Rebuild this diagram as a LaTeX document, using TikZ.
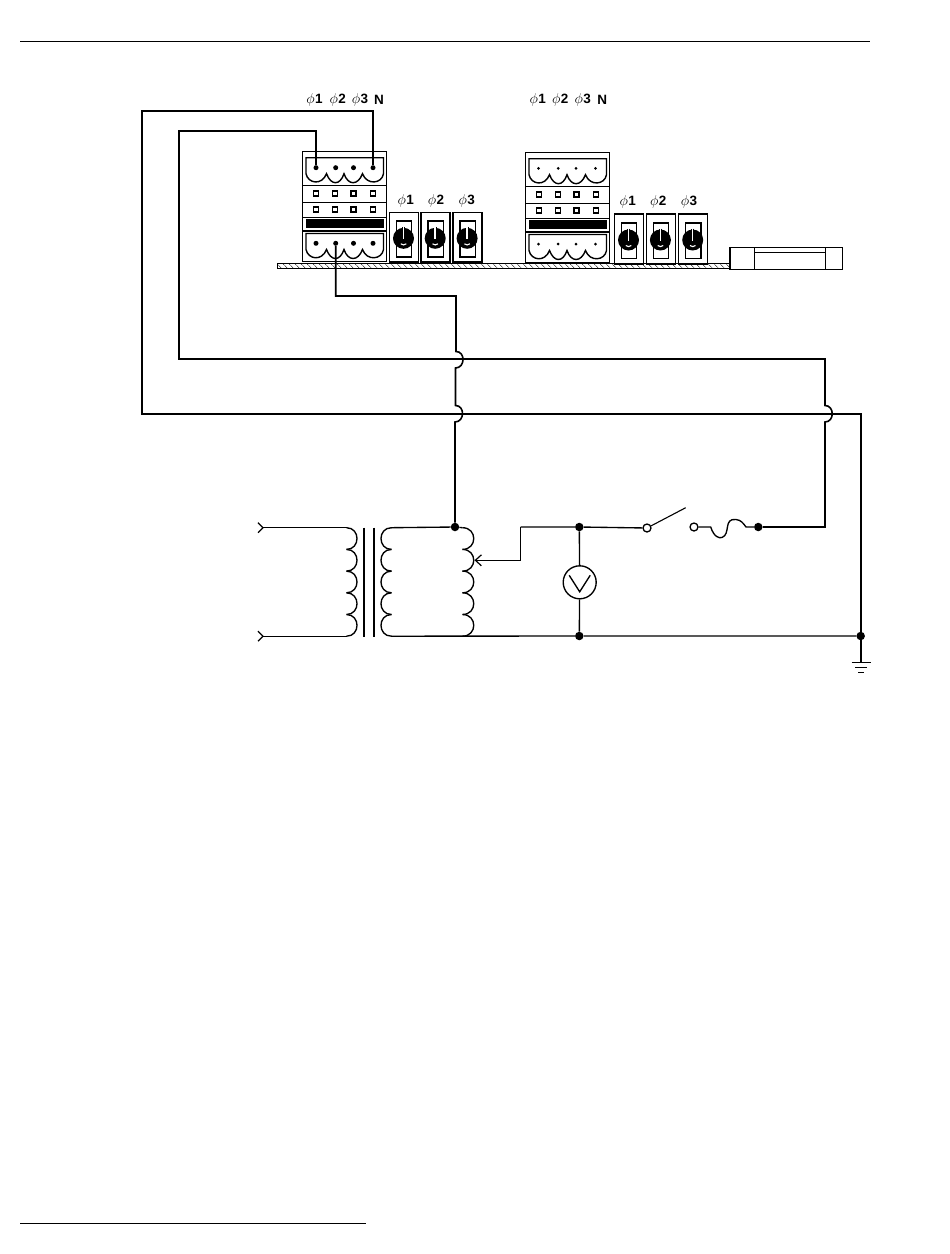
\documentclass[tikz,border=0pt]{standalone}
\usepackage{fontspec}
\setmainfont{Liberation Sans}
\usetikzlibrary{arrows.meta,patterns.meta}
\newcommand{\phlabel}[1]{$\phi$\kern.3pt{\bfseries #1}}
\tikzset{
  wire/.style={line width=1.6pt,line join=miter},
  thin wire/.style={line width=1.35pt},
  frame/.style={line width=1.4pt},
  hop/.style={out=0,in=0,looseness=1.5},
  jointdot/.style={circle,fill=black,inner sep=0pt,minimum size=8.5pt},
  opendot/.style={circle,draw,line width=1.3pt,fill=white,inner sep=0pt,minimum size=8pt},
  pinbig/.style={circle,fill=black,inner sep=0pt,minimum size=5pt},
  pinsmall/.style={circle,fill=black,inner sep=0pt,minimum size=3pt},
  phaselabel/.style={font=\fontsize{13.5}{13.5}\selectfont,inner sep=0pt}
}
\begin{document}
\begin{tikzpicture}[x=1pt,y=-1pt]
\useasboundingbox (0,0) rectangle (950,1254);
% page rules
\draw[line width=.9pt] (20,41.5) -- (870,41.5);
\draw[line width=.9pt] (20,1223.5) -- (366,1223.5);
% mounting rail and fuse holder
\draw[line width=1pt,pattern={Lines[angle=-45,distance=4pt,line width=.6pt]}] (277,263.5) rectangle (730,268.5);
\draw[frame] (730,247.7) rectangle (842.7,269.5);
\draw[frame] (754.3,247.7) -- (754.3,269.5);
\draw[frame] (825.7,247.7) -- (825.7,269.5);
\draw[frame] (754.3,252.7) -- (825.7,252.7);
% terminal blocks
\foreach \bx/\by in {0/0,223/1}{
\begin{scope}[shift={(\bx,\by)}]
\draw[frame] (302.5,151.7) rectangle (386.7,261.7);
\foreach \y in {185.5,202.5,217.3,231}
  \draw[frame] (302.5,\y) -- (386.7,\y);
\fill (306,219) rectangle (383.5,227.7);
\foreach \x in {316,335,353.5,372.7}{
  \draw[line width=1.2pt] (\x-2.5,191) rectangle (\x+2.5,196);
  \draw[line width=1.2pt] (\x-2.5,207) rectangle (\x+2.5,212);
}
\foreach \T in {157.7,233.5}
  \draw[frame,shift={(0,\T)}] (306,16) -- (306,0) -- (383.5,0) -- (383.5,16)
    .. controls (382,26) and (367,28) .. (362.5,16)
    .. controls (358,28) and (348,28) .. (344,16)
    .. controls (340,28) and (331,28) .. (326.5,16)
    .. controls (322,28) and (308,26) .. (306,16);
\end{scope}
}
\foreach \n/\x in {1/316,2/335.7,3/353.5,4/373}{
  \node[pinbig] (ta\n) at (\x,167.7) {};
  \node[pinbig] (tb\n) at (\x,243.3) {};
  \node[pinsmall] (ua\n) at (\x+222.5,168.3) {};
  \node[pinsmall] (ub\n) at (\x+222.5,244) {};
}
% selector switches
\foreach \sx/\sy in {389.3/212.3,421/212.3,452.9/212.3,614.3/214,646.2/214,678.5/214}{
\begin{scope}[shift={(\sx,\sy)}]
\draw[frame] (0,0) rectangle (29,49.8);
\draw[frame] (7,8.8) rectangle (22.4,44.5);
\fill (14.2,26) circle (10.5);
\draw[line width=3pt] (14.2,14.5) -- (14.2,20);
\draw[white,line width=1.5pt] (14.2,15) -- (14.2,27);
\draw[white,line width=1.1pt] (11.5,31.5) .. controls (13,33) and (15.5,33) .. (17,31.5);
\end{scope}
}
% phase labels
\node[phaselabel] (la1) at (314.5,99.5) {\phlabel{1}};
\node[phaselabel] (la2) at (337.7,99.5) {\phlabel{2}};
\node[phaselabel] (la3) at (360,99.5) {\phlabel{3}};
\node[phaselabel] (la4) at (379,99.5) {\bfseries N};
\node[phaselabel] (lb1) at (537.7,99.7) {\phlabel{1}};
\node[phaselabel] (lb2) at (560.3,99.7) {\phlabel{2}};
\node[phaselabel] (lb3) at (582.7,99.7) {\phlabel{3}};
\node[phaselabel] (lb4) at (602.3,99.7) {\bfseries N};
\node[phaselabel] (sa1) at (405.7,201.2) {\phlabel{1}};
\node[phaselabel] (sa2) at (436,201.2) {\phlabel{2}};
\node[phaselabel] (sa3) at (466.7,201.2) {\phlabel{3}};
\node[phaselabel] (sb1) at (627.7,201.7) {\phlabel{1}};
\node[phaselabel] (sb2) at (658.3,201.7) {\phlabel{2}};
\node[phaselabel] (sb3) at (689,201.7) {\phlabel{3}};
% junctions
\node[jointdot] (sec) at (455,527) {};
\node[jointdot] (busT) at (579.3,527) {};
\node[jointdot] (busB) at (579.3,636) {};
\node[jointdot] (gnd) at (860.7,636) {};
\node[jointdot] (fuseR) at (758.3,527) {};
\node[opendot] (swL) at (647,528) {};
\node[opendot] (swR) at (694,527) {};
\node[circle,draw,line width=1.35pt,inner sep=0pt,minimum size=33pt] (meter) at (579.7,582.3) {};
% long wires
\coordinate (nA) at (142,111);
\coordinate (nB) at (142,414);
\coordinate (pA) at (179,131);
\coordinate (pB) at (179,359);
\coordinate (pC) at (825,359);
\coordinate (hC) at (825,405.5);
\coordinate (hD) at (825,422);
\coordinate (pD) at (825,527);
\coordinate (qA) at (336,296);
\coordinate (qB) at (456,296);
\coordinate (hA) at (456,351.5);
\coordinate (hB) at (455.5,368);
\coordinate (hE) at (455.5,405.5);
\coordinate (hF) at (455,422);
\draw[wire] (ta4) |- (nA) -- (nB) -| (gnd);
\draw[wire] (ta1) |- (pA) -- (pB) -- (pC) -- (hC) to[hop] (hD) -- (pD) -- (fuseR);
\draw[wire] (tb2) |- (qB) -- (hA) to[hop] (hB) -- (hE) to[hop] (hF) -- (sec);
% transformer
\foreach \y in {527.7,549.4,571.1,592.8,614.5}{
  \draw[thin wire] (346.5,\y) .. controls +(14,0) and +(14,0) .. +(0,21.7);
  \draw[thin wire] (391.5,\y) .. controls +(-14,0) and +(-14,0) .. +(0,21.7);
  \draw[thin wire] (462.5,\y) .. controls +(15,0) and +(15,0) .. +(0,21.7);
}
\draw[thin wire] (364,527.7) -- (364,636.7);
\draw[thin wire] (374,527.7) -- (374,636.7);
\coordinate (inA) at (263,527.7);
\coordinate (inB) at (263,636.2);
\coordinate (coilA) at (347,527.7);
\coordinate (coilB) at (347,636.2);
\coordinate (coilC) at (391,527.7);
\coordinate (coilD) at (391,636.2);
\coordinate (coilE) at (462.5,527.7);
\draw[thin wire] (inA) -- (coilA);
\draw[thin wire] (inB) -- (coilB);
\draw[thin wire] (coilC) -- (sec) -- (coilE);
\draw[thin wire] (coilD) -- (busB) -- (gnd);
\foreach \p in {inA,inB}
  \draw[thin wire] ([shift={(-5,-5)}]\p) -- (\p) -- ([shift={(-5,5)}]\p);
% tap, bus, switch and fuse
\coordinate (tap) at (474.5,560.3);
\coordinate (tapA) at (520.7,560.3);
\coordinate (tapB) at (520.7,527);
\draw[thin wire,-{Straight Barb[length=6pt,width=11pt,line width=1.2pt]}] (tapB) -- (tapA) -- (tap);
\draw[thin wire] (tapB) -- (busT) -- (swL);
\draw[thin wire] (busT) -- (meter) -- (busB);
\draw[thin wire] (meter.center)+(-10.5,-7) -- +(0,9.5) -- +(10.5,-7);
\coordinate (lever) at (685.7,507.7);
\draw[line width=1.1pt] (swL) -- (lever);
\coordinate (fuseA) at (710.7,527);
\coordinate (fuseB) at (746,527);
\draw[thin wire] (swR) -- (fuseA)
  .. controls (714,537) and (719,538.5) .. (722,537.5)
  .. controls (731,534) and (723,518) .. (736,519.5)
  .. controls (741,520) and (743,523) .. (fuseB) -- (fuseR);
% ground
\coordinate (gndA) at (860.7,662.7);
\draw[wire] (gnd) -- (gndA);
\draw[thin wire] (851.5,662.7) -- (870.7,662.7);
\draw[thin wire] (855,667.7) -- (866.7,667.7);
\draw[thin wire] (858.3,672.5) -- (864,672.5);
\end{tikzpicture}
\end{document}
